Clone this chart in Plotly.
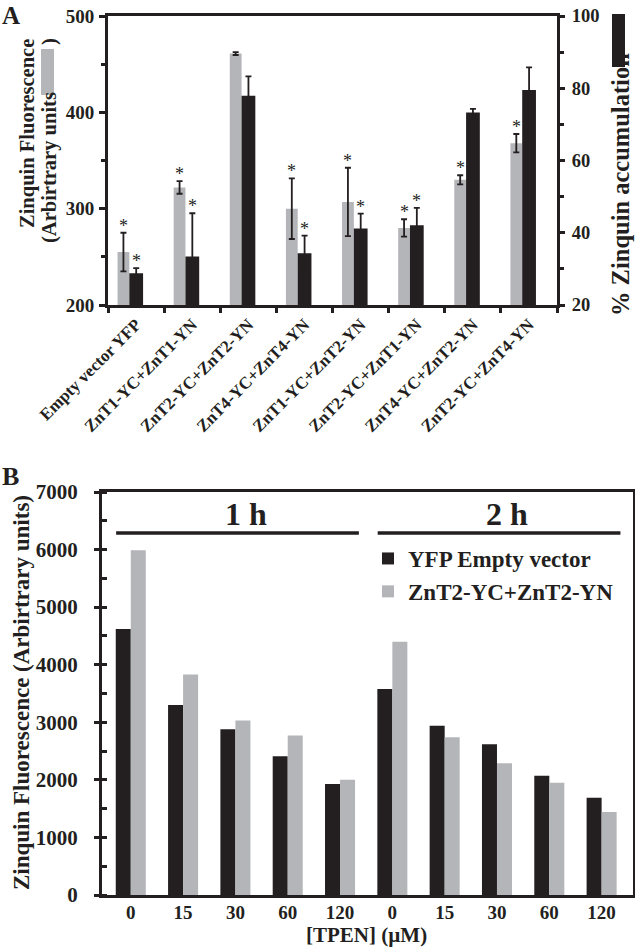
import plotly.graph_objects as go

# ---------------- data ----------------
# Panel A
cats_a = ["Empty vector YFP", "ZnT1-YC+ZnT1-YN", "ZnT2-YC+ZnT2-YN", "ZnT4-YC+ZnT4-YN",
          "ZnT1-YC+ZnT2-YN", "ZnT2-YC+ZnT1-YN", "ZnT4-YC+ZnT2-YN", "ZnT2-YC+ZnT4-YN"]
fluor = [255, 322, 461, 300, 307, 280, 330, 368]
fluor_err = [20, 6.5, 1.5, 31.5, 35.5, 9, 4.7, 9.5]
accum = [28.8, 33.4, 77.9, 34.3, 41.2, 42.1, 73.3, 79.5]
accum_err = [1.4, 12, 5.4, 4.9, 4.1, 4.8, 1.0, 6.3]
sig_fluor = [1, 1, 0, 1, 1, 1, 1, 1]
sig_accum = [1, 1, 0, 1, 1, 1, 0, 0]

# Panel B
tpen_labels = ["0", "15", "30", "60", "120", "0", "15", "30", "60", "120"]
time_groups = [("1 h", 0, 4), ("2 h", 5, 9)]
yfp_empty = [4620, 3300, 2880, 2410, 1930, 3580, 2940, 2620, 2070, 1690]
znt2 = [5990, 3830, 3030, 2770, 2000, 4400, 2740, 2290, 1950, 1440]

# ---------------- style ----------------
W, H = 635, 949
BLACK = "#231f20"
GRAY = "#b3b5b8"
FONT = "Liberation Serif"


def px_x(p):
    return p / W


def px_y(p):
    return 1 - p / H


def f(size, weight="bold", color=BLACK):
    return dict(family=FONT, size=size, weight=weight, color=color)


fig = go.Figure()

# Panel A bars
ga_off, ga_w = -0.33, 0.21
ba_off, ba_w = -0.12, 0.245
fig.add_trace(go.Bar(
    x=cats_a, y=fluor, marker_color=GRAY, offset=ga_off, width=ga_w,
    error_y=dict(type="data", array=fluor_err, color=BLACK, thickness=1.8, width=3),
    xaxis="x", yaxis="y", showlegend=False, name="Zinquin Fluorescence"))
fig.add_trace(go.Bar(
    x=cats_a, y=accum, marker_color=BLACK, offset=ba_off, width=ba_w,
    error_y=dict(type="data", array=accum_err, color=BLACK, thickness=1.8, width=3),
    xaxis="x", yaxis="y2", showlegend=False, name="% Zinquin accumulation"))

# Panel B bars
idx_b = list(range(len(tpen_labels)))
bw = 0.287
fig.add_trace(go.Bar(
    x=idx_b, y=yfp_empty, marker_color=BLACK, offset=-bw, width=bw,
    xaxis="x2", yaxis="y3", name="YFP Empty vector"))
fig.add_trace(go.Bar(
    x=idx_b, y=znt2, marker_color=GRAY, offset=0, width=bw,
    xaxis="x2", yaxis="y3", name="ZnT2-YC+ZnT2-YN"))

annotations = []
shapes = []

# asterisks
for i in range(len(cats_a)):
    if sig_fluor[i]:
        annotations.append(dict(x=i + ga_off + ga_w / 2, y=fluor[i] + fluor_err[i], xref="x", yref="y",
                                text="*", showarrow=False, yanchor="bottom", yshift=-5,
                                font=f(18, "normal")))
    if sig_accum[i]:
        annotations.append(dict(x=i + ba_off + ba_w / 2, y=accum[i] + accum_err[i], xref="x", yref="y2",
                                text="*", showarrow=False, yanchor="bottom", yshift=-5,
                                font=f(18, "normal")))

# Axis titles (with colour keys for panel A)
annotations += [
    dict(x=px_x(27), y=px_y(134), xref="paper", yref="paper", text="Zinquin Fluorescence",
         textangle=-90, showarrow=False, xanchor="center", yanchor="middle", font=f(20.5)),
    dict(x=px_x(49), y=px_y(168), xref="paper", yref="paper", text="(Arbirtrary units",
         textangle=-90, showarrow=False, xanchor="center", yanchor="middle", font=f(20.5)),
    dict(x=px_x(49), y=px_y(42), xref="paper", yref="paper", text=")",
         textangle=-90, showarrow=False, xanchor="center", yanchor="middle", font=f(20.5)),
    dict(x=px_x(620), y=px_y(185), xref="paper", yref="paper", text="% Zinquin accumulation",
         textangle=-90, showarrow=False, xanchor="center", yanchor="middle", font=f(24.5)),
    dict(x=px_x(21), y=px_y(693), xref="paper", yref="paper",
         text="Zinquin Fluorescence (Arbirtrary units)",
         textangle=-90, showarrow=False, xanchor="center", yanchor="middle", font=f(23)),
    dict(x=px_x(367), y=px_y(935), xref="paper", yref="paper", text="[TPEN] (µM)",
         showarrow=False, xanchor="center", yanchor="middle", font=f(21)),
    dict(x=0, y=1, xref="paper", yref="paper", text="A", showarrow=False,
         xanchor="left", yanchor="top", font=f(25)),
    dict(x=0, y=px_y(460), xref="paper", yref="paper", text="B", showarrow=False,
         xanchor="left", yanchor="top", font=f(26)),
]
shapes += [
    dict(type="rect", xref="paper", yref="paper", x0=px_x(41), x1=px_x(54), y0=px_y(95), y1=px_y(49),
         fillcolor=GRAY, line=dict(width=0)),
    dict(type="rect", xref="paper", yref="paper", x0=px_x(612), x1=px_x(625), y0=px_y(67), y1=px_y(14),
         fillcolor=BLACK, line=dict(width=0)),
]

# Panel B time group bars
line_y = 6290
for label, i0, i1 in time_groups:
    shapes.append(dict(type="line", xref="x2", yref="y3", x0=i0 - 0.28, x1=i1 + 0.36,
                       y0=line_y, y1=line_y, line=dict(color=BLACK, width=3.5)))
    annotations.append(dict(x=(i0 + i1) / 2 + 0.2, y=line_y, xref="x2", yref="y3", text=label,
                            showarrow=False, yanchor="bottom", yshift=-1, font=f(32)))

axis_common = dict(showgrid=False, zeroline=False, showline=True, linecolor=BLACK,
                   automargin=False, ticks="outside", tickcolor=BLACK)

fig.update_layout(
    template="none",
    width=W, height=H,
    margin=dict(l=0, r=0, t=0, b=0),
    paper_bgcolor="white", plot_bgcolor="white",
    barmode="overlay",
    font=f(16),
    xaxis=dict(axis_common, domain=[px_x(108), px_x(557)], anchor="y", type="category",
               range=[-0.5, len(cats_a) - 0.5], tickangle=-45, tickson="boundaries",
               ticklen=5, tickwidth=3, linewidth=3, mirror=True, tickfont=f(17)),
    yaxis=dict(axis_common, domain=[px_y(305), px_y(16)], anchor="x", range=[200, 500], dtick=100,
               ticklen=6, tickwidth=3, linewidth=3, tickfont=f(19), ticklabelstandoff=1,
               minor=dict(dtick=50, ticks="outside", ticklen=4, tickwidth=2.5, tickcolor=BLACK)),
    yaxis2=dict(axis_common, overlaying="y", side="right", anchor="x", range=[20, 100], dtick=20,
                ticklen=5, tickwidth=3, linewidth=3, tickfont=f(18.5), ticklabelstandoff=3,
                minor=dict(dtick=10, ticks="outside", ticklen=4, tickwidth=2.5, tickcolor=BLACK)),
    xaxis2=dict(axis_common, domain=[px_x(102), px_x(633)], anchor="y3", range=[-0.55, 9.6],
                tickvals=idx_b, ticktext=tpen_labels, ticks="", linewidth=3, mirror=True,
                tickfont=f(19), ticklabelstandoff=-2),
    yaxis3=dict(axis_common, domain=[px_y(895), px_y(492)], anchor="x2", range=[0, 7000], dtick=1000,
                ticklen=5, tickwidth=3, linewidth=3, mirror=True, tickfont=f(21), ticklabelstandoff=12,
                minor=dict(dtick=500, ticks="inside", ticklen=5, tickwidth=2.5, tickcolor=BLACK)),
    legend=dict(x=px_x(368), y=px_y(537), xanchor="left", yanchor="top", bgcolor="rgba(0,0,0,0)",
                font=f(23), tracegroupgap=0, itemsizing="constant"),
    annotations=annotations,
    shapes=shapes,
)

fig.write_html("out.html", config={"displayModeBar": False},
               post_script="document.body.style.margin='0px';")
